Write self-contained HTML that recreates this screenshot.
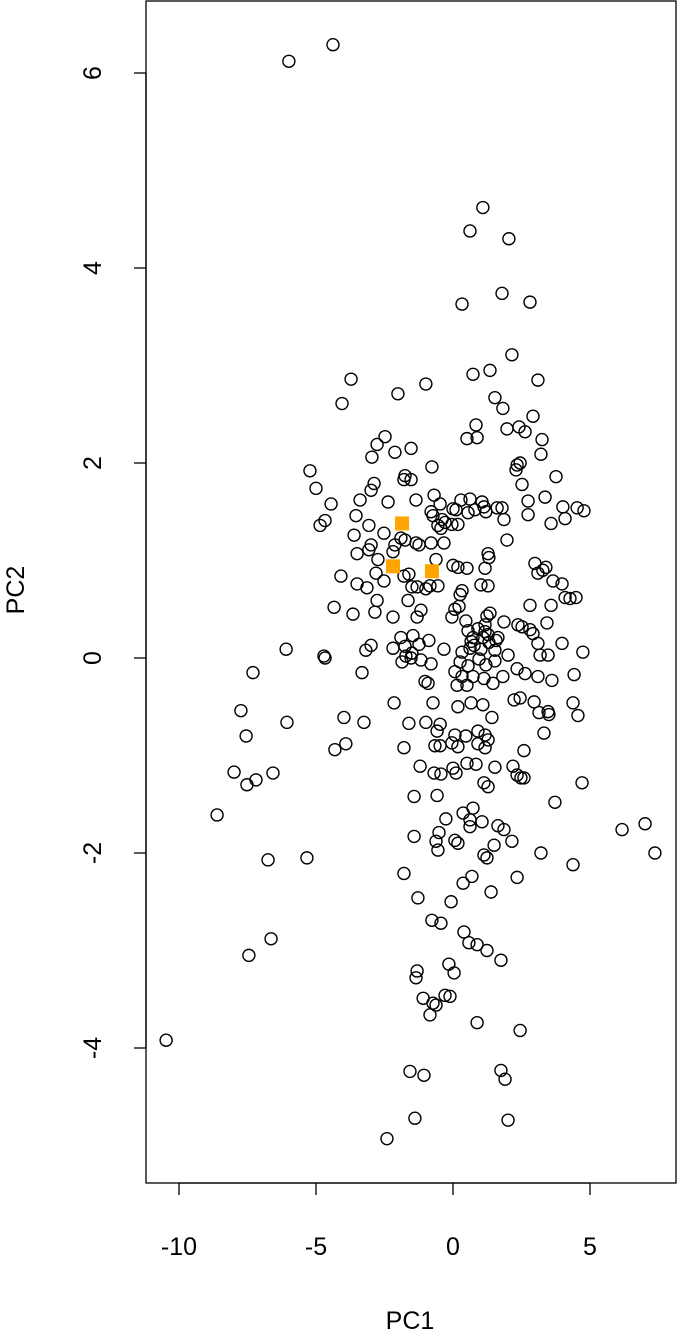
<!DOCTYPE html>
<html><head><meta charset="utf-8"><style>
body{margin:0;background:#fff}
svg text{font-family:"Liberation Sans",Arial,sans-serif;font-size:25px;fill:#000}
</style></head><body>
<svg id="c" width="677" height="1331">
<rect x="146" y="1" width="530" height="1182" fill="none" stroke="#000" stroke-width="1.3"/>
<g id="axes"></g><g id="pts"></g>
<text x="410" y="1329" text-anchor="middle">PC1</text>
<text transform="translate(24,590) rotate(-90)" text-anchor="middle">PC2</text>
</svg>
<script>
const xTicks=[-10,-5,0,5];
const yTicks=[-4,-2,0,2,4,6];
const xs=[-5.99,-4.38,1.09,0.62,2.04,0.33,1.79,2.81,2.15,-3.72,-4.05,-2.01,-0.99,0.73,1.35,3.10,1.53,1.82,0.84,2.92,0.51,0.88,-2.48,-2.77,-1.53,-2.12,1.97,2.41,2.63,3.25,3.21,-2.96,-5.22,-0.77,2.34,2.45,2.30,3.76,-1.75,-1.79,-1.53,-2.88,-5.0,2.52,-2.99,-3.39,-4.45,-2.37,-0.69,0.29,0.62,1.06,1.13,0,0.11,-0.47,-1.35,1.61,1.79,2.74,2.74,3.36,4.01,4.53,4.78,4.09,3.58,-0.80,-0.73,-0.40,-0.55,-0.29,-0.04,0.18,-0.44,-3.54,-3.07,-4.67,-4.85,0.55,0.80,1.20,1.86,-3.61,-2.52,-2.12,-1.90,-1.35,-1.24,-1.75,-0.80,-0.33,-2.99,-3.07,-2.19,-3.50,-2.74,1.97,1.28,1.31,0,0.18,-0.62,0.51,1.17,2.99,3.39,3.28,3.10,-2.81,-1.61,-1.79,-4.09,-2.52,-3.14,-3.50,-1.50,-1.31,-0.99,-0.84,-0.55,0.33,0.26,1.28,1.02,3.65,3.98,4.09,4.27,4.49,3.58,-1.64,-2.77,-4.34,-1.17,0.07,0.22,2.81,-2.85,-3.65,-2.19,-1.31,-0.04,0.47,1.86,1.24,1.35,1.17,0.91,0.55,0.73,2.37,2.52,2.81,2.92,3.43,3.98,3.10,1.17,1.09,1.28,1.57,1.64,0.66,0.77,1.31,-1.90,-1.46,-1.75,-2.99,-3.18,-1.24,-0.88,-2.19,-6.09,-4.71,-4.67,-0.33,0.33,0.62,1.02,1.53,2.01,3.18,3.47,4.74,-1.72,-1.50,-1.86,-1.53,-1.17,-0.80,0.26,0.55,0.95,1.20,1.53,-3.32,-7.30,0.07,0.33,0.73,1.13,-1.02,-0.91,0.15,0.51,1.46,1.82,2.34,2.63,3.10,3.61,4.42,2.23,2.45,2.96,-2.15,-0.73,0.66,1.09,4.38,0.18,-7.74,3.14,3.47,3.50,4.56,1.42,-3.98,-6.06,-3.25,-1.61,-0.99,-0.47,-0.58,0.91,1.17,0.07,0.47,3.32,-7.55,1.28,-3.91,0.91,-0.04,0.18,-0.47,-0.66,1.17,-4.31,-1.79,2.59,-1.20,0.51,0.84,1.53,2.19,0,-7.99,-6.57,-0.69,-0.44,0.11,2.34,2.48,2.59,-7.19,-7.52,1.13,1.28,4.71,-0.58,-1.42,3.72,0.73,0.37,0.62,-0.26,1.06,1.64,1.86,0.62,-8.61,6.17,7.01,7.37,-1.42,-0.51,-0.62,0.07,0.18,1.50,2.15,-0.55,1.13,1.24,3.21,4.38,-5.33,-6.75,-1.79,2.34,0.37,0.69,1.39,-1.28,-0.07,-0.77,-0.44,0.40,0.58,0.88,1.24,-6.64,1.75,-7.45,-0.15,0.04,-1.31,-1.35,-0.29,-0.11,-1.09,-0.73,-0.62,-0.84,0.88,2.45,-10.47,-1.57,-1.06,1.75,1.90,-1.39,2.01,-2.41];
const ys=[6.12,6.29,4.62,4.38,4.30,3.63,3.74,3.65,3.11,2.86,2.61,2.71,2.81,2.91,2.95,2.85,2.67,2.56,2.39,2.48,2.25,2.26,2.27,2.19,2.15,2.11,2.35,2.37,2.32,2.24,2.09,2.06,1.92,1.96,1.98,2.00,1.93,1.86,1.87,1.83,1.83,1.79,1.74,1.78,1.72,1.62,1.58,1.60,1.67,1.62,1.63,1.60,1.55,1.53,1.52,1.58,1.62,1.54,1.54,1.61,1.47,1.65,1.55,1.54,1.51,1.43,1.38,1.50,1.46,1.42,1.36,1.39,1.37,1.37,1.33,1.46,1.36,1.41,1.36,1.49,1.52,1.50,1.42,1.26,1.28,1.16,1.23,1.18,1.16,1.21,1.18,1.18,1.16,1.11,1.09,1.07,1.01,1.21,1.07,1.03,0.95,0.93,1.01,0.92,0.92,0.97,0.93,0.90,0.87,0.87,0.86,0.84,0.84,0.79,0.72,0.76,0.73,0.73,0.71,0.74,0.74,0.69,0.65,0.74,0.75,0.79,0.76,0.62,0.61,0.62,0.54,0.59,0.59,0.52,0.49,0.50,0.53,0.54,0.47,0.45,0.42,0.42,0.42,0.38,0.37,0.43,0.46,0.34,0.30,0.28,0.21,0.34,0.32,0.29,0.25,0.36,0.15,0.15,0.27,0.21,0.24,0.18,0.21,0.17,0.13,0.16,0.21,0.23,0.12,0.13,0.08,0.14,0.18,0.10,0.09,0.02,0.0,0.09,0.06,0.10,0.09,0.08,0.03,0.03,0.03,0.06,0.02,0.05,-0.04,0.0,-0.02,-0.06,-0.04,-0.08,-0.01,-0.07,-0.03,-0.15,-0.15,-0.14,-0.19,-0.19,-0.21,-0.24,-0.26,-0.28,-0.28,-0.26,-0.19,-0.11,-0.16,-0.19,-0.23,-0.17,-0.43,-0.41,-0.45,-0.46,-0.46,-0.46,-0.48,-0.46,-0.50,-0.54,-0.56,-0.55,-0.58,-0.59,-0.61,-0.61,-0.66,-0.66,-0.67,-0.66,-0.68,-0.75,-0.75,-0.79,-0.79,-0.80,-0.77,-0.80,-0.84,-0.88,-0.88,-0.87,-0.91,-0.90,-0.90,-0.92,-0.94,-0.92,-0.95,-1.11,-1.08,-1.09,-1.12,-1.11,-1.13,-1.17,-1.18,-1.18,-1.19,-1.18,-1.20,-1.23,-1.23,-1.25,-1.30,-1.28,-1.32,-1.28,-1.41,-1.42,-1.48,-1.54,-1.59,-1.66,-1.65,-1.68,-1.72,-1.76,-1.73,-1.61,-1.76,-1.70,-2.0,-1.83,-1.79,-1.88,-1.87,-1.90,-1.92,-1.88,-1.97,-2.02,-2.05,-2.0,-2.12,-2.05,-2.07,-2.21,-2.25,-2.31,-2.24,-2.40,-2.46,-2.50,-2.69,-2.72,-2.81,-2.92,-2.94,-3.0,-2.88,-3.10,-3.05,-3.14,-3.23,-3.21,-3.28,-3.46,-3.47,-3.49,-3.54,-3.56,-3.66,-3.74,-3.82,-3.92,-4.24,-4.28,-4.23,-4.32,-4.72,-4.74,-4.93];
const hiX=[-1.86,-2.19,-0.77];
const hiY=[1.38,0.94,0.89];
const X=v=>453+27.4*v, Y=v=>658-97.5*v;
const NS='http://www.w3.org/2000/svg';
function mk(t,a,p){const e=document.createElementNS(NS,t);for(const k in a)e.setAttribute(k,a[k]);p.appendChild(e);return e;}
const ax=document.getElementById('axes'),pts=document.getElementById('pts');
const xl=mk('line',{x1:X(xTicks[0]),x2:X(xTicks[xTicks.length-1]),y1:1183,y2:1183,stroke:'#000','stroke-width':1.3},ax);


xTicks.forEach(t=>{const l=mk('line',{x1:X(t),x2:X(t),y1:1183,y2:1195,stroke:'#000','stroke-width':1.3},ax);


const tx=mk('text',{x:X(t),y:1255,'text-anchor':'middle'},ax);tx.textContent=t;

});
const yl=mk('line',{x1:146,x2:146,y1:Y(yTicks[0]),y2:Y(yTicks[yTicks.length-1]),stroke:'#000','stroke-width':1.3},ax);


yTicks.forEach(t=>{const l=mk('line',{x1:134,x2:146,y1:Y(t),y2:Y(t),stroke:'#000','stroke-width':1.3},ax);


const tx=mk('text',{transform:`translate(101,${Y(t)}) rotate(-90)`,'text-anchor':'middle'},ax);tx.textContent=t;

});
xs.forEach((v,i)=>{const c=mk('circle',{cx:X(v),cy:Y(ys[i]),r:6,fill:'none',stroke:'#000','stroke-width':1.4},pts);

});
hiX.forEach((v,i)=>{const r=mk('rect',{x:X(v)-7,y:Y(hiY[i])-7,width:14,height:14,fill:'#FFA500'},pts);

});
</script>
</body></html>
